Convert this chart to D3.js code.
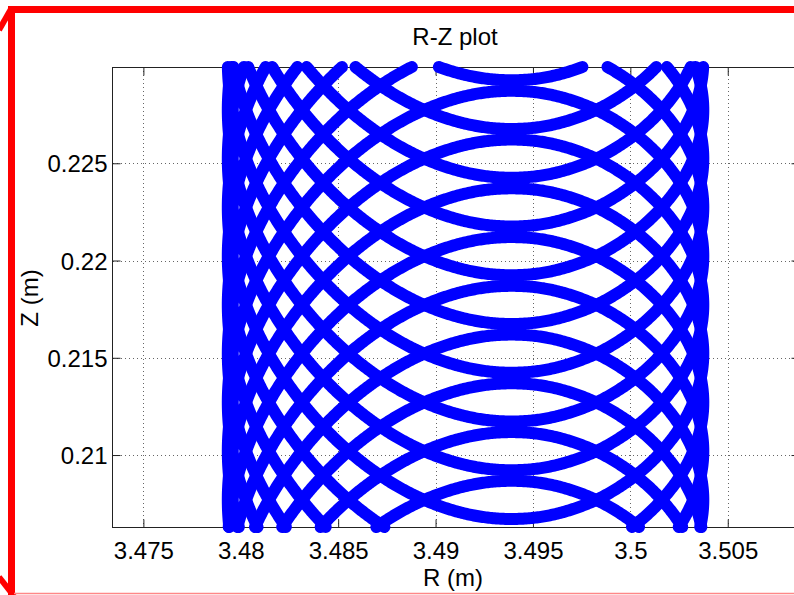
<!DOCTYPE html>
<html>
<head>
<meta charset="utf-8">
<script src="https://cdn.jsdelivr.net/npm/d3@7"></script>
<style>
  html, body { margin: 0; padding: 0; background: #fff; }
  svg { display: block; }
  text { font-family: "Liberation Sans", Arial, Helvetica, sans-serif; fill: #000; }
</style>
</head>
<body>
<svg id="chart" width="794" height="595"></svg>
<script>
// ---------------- data ----------------
const title = "R-Z plot";
const xLabel = "R (m)";
const yLabel = "Z (m)";
const xTicks = [3.475, 3.48, 3.485, 3.49, 3.495, 3.5, 3.505];
const yTicks = [0.21, 0.215, 0.22, 0.225];
const xDomain = [3.47344, 3.50871];
const yDomain = [0.20630, 0.22995];

// gyration centre (R) of the orbit
const rCenter = 3.491540;
// one gyration turn, sampled every 15 deg: R offset from centre (m)
const loopDR = [0.012206, 0.011814, 0.010661, 0.008811, 0.006373, 0.003494, 0.000359, -0.002824,
                -0.005834, -0.008451, -0.010481, -0.011766, -0.012206, -0.011766, -0.010481, -0.008451,
                -0.005834, -0.002824, 0.000359, 0.003494, 0.006373, 0.008811, 0.010661, 0.011814];
// same turn: Z offset from the top of that turn (m)
const loopDZ = [-0.008505, -0.006317, -0.004203, -0.002303, -0.000837, -0.000064, -0.000197, -0.001318,
                -0.003343, -0.006063, -0.009216, -0.012582, -0.016024, -0.019465, -0.022832, -0.025985,
                -0.028704, -0.030730, -0.031850, -0.031983, -0.031211, -0.029744, -0.027844, -0.025731];

// Z of the top of each turn, grouped into the passes of the orbit through the window
const passA = [0.261312, 0.246274, 0.231235, 0.216197];
const passB = [0.258806, 0.243767, 0.228729, 0.213691];
const passC = [0.256299, 0.241261, 0.226223, 0.211184];
const passD = [0.253793, 0.238755, 0.223716, 0.208678];
const passE = [0.251287, 0.236248, 0.221210, 0.206171];
const passF = [0.248780, 0.233742, 0.218703];
const passes = [passA, passB, passC, passD, passE, passF];

// ---------------- layout ----------------
const svg = d3.select("#chart");
const plot = { left: 113, top: 67, right: 800, bottom: 527 };

const x = d3.scaleLinear().domain(xDomain).range([plot.left, plot.right]);
const y = d3.scaleLinear().domain(yDomain).range([plot.bottom, plot.top]);

svg.append("rect").attr("width", 794).attr("height", 595).attr("fill", "#fff");

// grid (dotted)
const grid = svg.append("g");
grid.selectAll("line.gx").data(xTicks).enter().append("line")
  .attr("x1", d => Math.round(x(d)) + 0.5).attr("x2", d => Math.round(x(d)) + 0.5)
  .attr("y1", plot.top).attr("y2", plot.bottom)
  .attr("stroke", "#666").attr("stroke-width", 1).attr("stroke-dasharray", "1,3");
grid.selectAll("line.gy").data(yTicks).enter().append("line")
  .attr("y1", d => Math.round(y(d)) + 0.5).attr("y2", d => Math.round(y(d)) + 0.5)
  .attr("x1", plot.left).attr("x2", plot.right)
  .attr("stroke", "#666").attr("stroke-width", 1).attr("stroke-dasharray", "1,3");

// axes box
const box = svg.append("g").attr("stroke", "#222").attr("stroke-width", 1).attr("fill", "none");
box.append("rect")
  .attr("x", plot.left - 0.5).attr("y", plot.top + 0.5)
  .attr("width", plot.right - plot.left).attr("height", plot.bottom - plot.top);

// axes with inward ticks
const tickLen = 8;
const xAxisB = d3.axisBottom(x).tickValues(xTicks).tickSize(-tickLen).tickFormat(d => String(d));
const xAxisT = d3.axisTop(x).tickValues(xTicks).tickSize(-tickLen).tickFormat("");
const yAxisL = d3.axisLeft(y).tickValues(yTicks).tickSize(-tickLen).tickFormat(d => String(d));
const yAxisR = d3.axisRight(y).tickValues(yTicks).tickSize(-tickLen).tickFormat("");

function styleAxis(g) {
  g.select(".domain").remove();
  g.selectAll(".tick line").attr("stroke", "#222");
  g.selectAll(".tick text").attr("font-size", 24)
    .attr("font-family", "'Liberation Sans', Arial, Helvetica, sans-serif").attr("fill", "#000");
}
svg.append("g").attr("transform", `translate(0,${plot.bottom + 0.5})`).call(xAxisB).call(styleAxis)
  .selectAll(".tick text").attr("dy", "0.71em").attr("y", 14);
svg.append("g").attr("transform", `translate(0,${plot.top + 0.5})`).call(xAxisT).call(styleAxis);
svg.append("g").attr("transform", `translate(${plot.left - 0.5},0)`).call(yAxisL).call(styleAxis)
  .selectAll(".tick text").attr("dy", "0.36em").attr("x", -5);
svg.append("g").attr("transform", `translate(${plot.right - 0.5},0)`).call(yAxisR).call(styleAxis);

// ---------------- the orbit ----------------
// smooth curve through the read points (D3 Catmull-Rom), then clipped to the axes
// the way MATLAB does it: the centre line is cut at the axes limits, the thick
// stroke with round ends may spill a few pixels past the box.
const smooth = d3.line()
  .x(d => x(d[0])).y(d => y(d[1]))
  .curve(d3.curveCatmullRom.alpha(0));
const straight = d3.line();

const scratch = svg.append("path").attr("fill", "none").attr("stroke", "none");
const dataG = svg.append("g");

function inside(p) {
  return p[1] >= plot.top && p[1] <= plot.bottom && p[0] >= plot.left && p[0] <= plot.right;
}
function cut(a, b) {
  // point where segment a->b crosses the axes box
  let t = 1;
  if (b[1] < plot.top) t = Math.min(t, (plot.top - a[1]) / (b[1] - a[1]));
  if (b[1] > plot.bottom) t = Math.min(t, (plot.bottom - a[1]) / (b[1] - a[1]));
  if (b[0] < plot.left) t = Math.min(t, (plot.left - a[0]) / (b[0] - a[0]));
  if (b[0] > plot.right) t = Math.min(t, (plot.right - a[0]) / (b[0] - a[0]));
  return [a[0] + t * (b[0] - a[0]), a[1] + t * (b[1] - a[1])];
}

passes.forEach(tops => {
  const pts = [];
  tops.forEach(top => {
    loopDR.forEach((dr, i) => pts.push([rCenter + dr, top + loopDZ[i]]));
  });
  scratch.attr("d", smooth(pts));
  const node = scratch.node();
  const total = node.getTotalLength();
  const step = 1.5;
  const runs = [];
  let run = null, prev = null;
  for (let s = 0; s <= total + step; s += step) {
    const q = node.getPointAtLength(Math.min(s, total));
    const p = [q.x, q.y];
    const inP = inside(p);
    if (inP) {
      if (!run) {
        run = [];
        if (prev) run.push(cut(p, prev));
      }
      run.push(p);
    } else if (run) {
      run.push(cut(prev, p));
      runs.push(run);
      run = null;
    }
    prev = p;
  }
  if (run) runs.push(run);
  runs.forEach(r => {
    dataG.append("path")
      .attr("d", straight(r))
      .attr("fill", "none")
      .attr("stroke", "#0000ff")
      .attr("stroke-width", 12)
      .attr("stroke-linejoin", "round")
      .attr("stroke-linecap", "round");
  });
});
scratch.remove();

// texts
svg.append("text").attr("x", 455).attr("y", 45).attr("text-anchor", "middle")
  .attr("font-size", 24).text(title);
svg.append("text").attr("x", 453).attr("y", 586).attr("text-anchor", "middle")
  .attr("font-size", 24).text(xLabel);
svg.append("text").attr("transform", "translate(38,298) rotate(-90)").attr("text-anchor", "middle")
  .attr("font-size", 24).text(yLabel);

// red frame around the figure
const red = svg.append("g").attr("fill", "none").attr("stroke", "#ff0000");
red.append("line").attr("x1", 8).attr("y1", 9.5).attr("x2", 794).attr("y2", 9.5).attr("stroke-width", 7);
red.append("line").attr("x1", 11.5).attr("y1", 6).attr("x2", 11.5).attr("y2", 595).attr("stroke-width", 7);
red.append("line").attr("x1", -1).attr("y1", 30).attr("x2", 11).attr("y2", 9).attr("stroke-width", 6);
red.append("line").attr("x1", -1).attr("y1", 577).attr("x2", 14).attr("y2", 596).attr("stroke-width", 6);
red.append("line").attr("x1", 14).attr("y1", 593.5).attr("x2", 794).attr("y2", 593.5)
  .attr("stroke", "#ff8888").attr("stroke-width", 1.5);
</script>
</body>
</html>
